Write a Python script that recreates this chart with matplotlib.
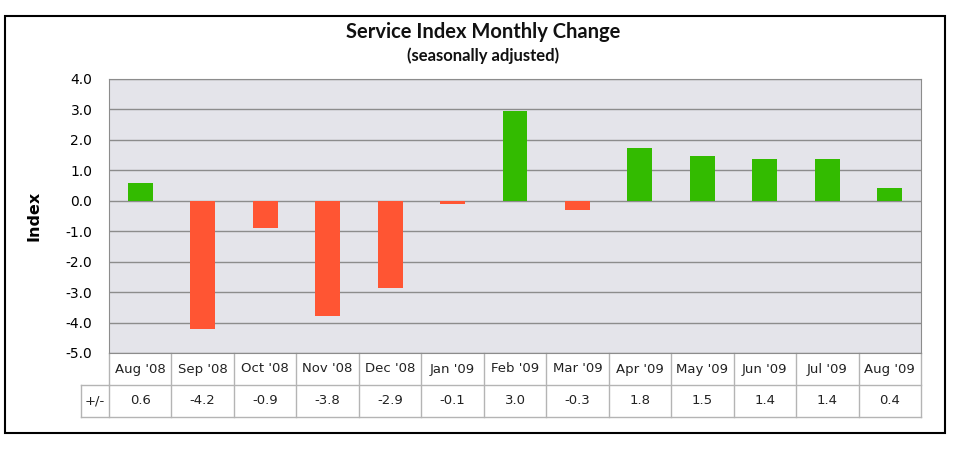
import matplotlib.pyplot as plt
from matplotlib.patches import Rectangle

months = ["Aug '08", "Sep '08", "Oct '08", "Nov '08", "Dec '08", "Jan '09", "Feb '09",
          "Mar '09", "Apr '09", "May '09", "Jun '09", "Jul '09", "Aug '09"]
bar_values = [0.6, -4.2, -0.9, -3.8, -2.85, -0.12, 2.95, -0.3, 1.75, 1.48, 1.38, 1.38, 0.42]
table_values = ["0.6", "-4.2", "-0.9", "-3.8", "-2.9", "-0.1", "3.0", "-0.3", "1.8", "1.5", "1.4", "1.4", "0.4"]
yticks = [4.0, 3.0, 2.0, 1.0, 0.0, -1.0, -2.0, -3.0, -4.0, -5.0]

fig = plt.figure(figsize=(9.58, 4.49), dpi=100)
W, H = 958, 449

# outer frame
fig.patches.append(Rectangle((5 / W, 16 / H), 940 / W, 417 / H, transform=fig.transFigure,
                             fill=False, edgecolor='black', linewidth=1.5))

ax = fig.add_axes([109 / W, 1 - 353 / H, (921 - 109) / W, (353 - 79) / H])
ax.set_facecolor('#e4e4ea')
x = list(range(len(months)))
colors = ['#33bb00' if v >= 0 else '#ff5533' for v in bar_values]
ax.bar(x, bar_values, width=0.4, color=colors, zorder=3)
ax.set_xlim(-0.5, len(months) - 0.5)
ax.set_ylim(-5, 4)
ax.set_yticks(yticks)
ax.set_yticklabels([f"{v:.1f}" for v in yticks], fontsize=10, family='DejaVu Sans')
ax.yaxis.grid(True, color='#8c8c8c', linewidth=1)
ax.set_axisbelow(True)
ax.tick_params(axis='y', length=0, pad=12)
ax.set_xticks([])
for s in ['top', 'right', 'bottom', 'left']:
    ax.spines[s].set_color('#8c8c8c')
ax.set_ylabel('Index', fontsize=11.5, fontweight='bold', family='DejaVu Sans', labelpad=17)

# data table below the axis
tr = ax.get_xaxis_transform()
row_h = 32 / (353 - 79)
lc = '#b4b4b4'
y1, y2 = -row_h, -2 * row_h
ax.plot([-0.5, 12.5], [y1, y1], transform=tr, color=lc, lw=1, clip_on=False)
ax.plot([-0.95, 12.5], [y2, y2], transform=tr, color=lc, lw=1, clip_on=False)
ax.plot([-0.95, -0.5], [y1, y1], transform=tr, color=lc, lw=1, clip_on=False)
ax.plot([-0.95, -0.95], [y1, y2], transform=tr, color=lc, lw=1, clip_on=False)
for i in range(len(months) + 1):
    ax.plot([i - 0.5, i - 0.5], [0, y2], transform=tr, color=lc, lw=1, clip_on=False)
for i, (m, v) in enumerate(zip(months, table_values)):
    ax.text(i, y1 / 2, m, transform=tr, ha='center', va='center', fontsize=9.5,
            family='DejaVu Sans', color='#222222')
    ax.text(i, (y1 + y2) / 2, v, transform=tr, ha='center', va='center', fontsize=9.5,
            family='DejaVu Sans', color='#222222')
ax.text(-0.725, (y1 + y2) / 2, '+/-', transform=tr, ha='center', va='center', fontsize=9.5,
        family='DejaVu Sans', color='#222222')

fig.text(483 / W, 1 - 32 / H, 'Service Index Monthly Change', ha='center', va='center',
         fontsize=14.5, family='Lato', fontweight='bold', color='#111111')
fig.text(483 / W, 1 - 56 / H, '(seasonally adjusted)', ha='center', va='center',
         fontsize=12, family='Lato', fontweight='bold', color='#111111')

fig.savefig('out.png', dpi=100)
